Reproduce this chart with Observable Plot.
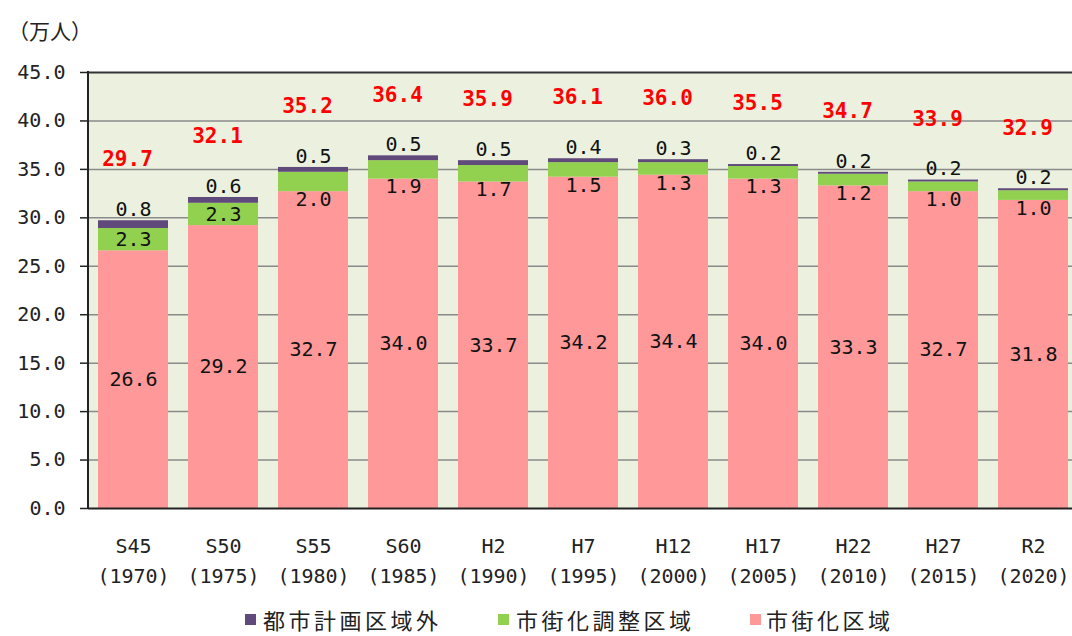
<!DOCTYPE html>
<html>
<head>
<meta charset="utf-8">
<script src="https://cdn.jsdelivr.net/npm/d3@7"></script>
<script src="https://cdn.jsdelivr.net/npm/@observablehq/plot@0.6"></script>
<style>
  html, body { margin: 0; padding: 0; background: #fff; overflow: hidden; }
  #wrap { position: relative; width: 1072px; height: 636px; }
  #unit { height: 50px; position: relative; }
  #unit span { position: absolute; left: 8px; top: 18px; font: 21px "Noto Sans CJK JP"; color: #222; line-height: 24px; }
  #legend { position: absolute; left: 0; top: 604px; width: 1072px; height: 30px; font-family: "Noto Sans CJK JP"; }
  #legend .sw { position: absolute; width: 11px; height: 11px; top: 10px; }
  #legend .lb { position: absolute; top: 3px; font-size: 22px; line-height: 24px; letter-spacing: 3.5px; color: #222; white-space: nowrap; }
</style>
</head>
<body>
<div id="wrap">
  <div id="unit"><span>（万人）</span></div>
  <div id="chart"></div>
  <div id="legend"></div>
</div>
<script>
// ---- data ----
const periods = ["S45", "S50", "S55", "S60", "H2", "H7", "H12", "H17", "H22", "H27", "R2"];
const years = ["1970", "1975", "1980", "1985", "1990", "1995", "2000", "2005", "2010", "2015", "2020"];
const shigaika = [26.6, 29.2, 32.7, 34.0, 33.7, 34.2, 34.4, 34.0, 33.3, 32.7, 31.8]; // 市街化区域
const chosei   = [2.3, 2.3, 2.0, 1.9, 1.7, 1.5, 1.3, 1.3, 1.2, 1.0, 1.0];           // 市街化調整区域
const gai      = [0.8, 0.6, 0.5, 0.5, 0.5, 0.4, 0.3, 0.2, 0.2, 0.2, 0.2];           // 都市計画区域外
const totals   = [29.7, 32.1, 35.2, 36.4, 35.9, 36.1, 36.0, 35.5, 34.7, 33.9, 32.9];
const categories = ["市街化区域", "市街化調整区域", "都市計画区域外"];
const colors = ["#FF9999", "#92D050", "#604A7B"];
const yTicks = [0, 5, 10, 15, 20, 25, 30, 35, 40, 45];

// ---- build table ----
const rows = [];
periods.forEach((p, i) => {
  rows.push({period: p, cat: categories[0], value: shigaika[i]});
  rows.push({period: p, cat: categories[1], value: chosei[i]});
  rows.push({period: p, cat: categories[2], value: gai[i]});
});
const perBar = periods.map((p, i) => ({
  period: p, pink: shigaika[i], green: chosei[i], purple: gai[i],
  top: shigaika[i] + chosei[i] + gai[i], total: totals[i]
}));

const numFont = "DejaVu Sans Mono";
const width = 1072, height = 552;
const mL = 88, mR = -6, mT = 22, mB = 94;

const chart = Plot.plot({
  width, height,
  marginLeft: mL, marginRight: mR, marginTop: mT, marginBottom: mB,
  style: {background: "transparent", overflow: "visible"},
  x: {domain: periods, paddingInner: 0.22, paddingOuter: 0.11, axis: null},
  y: {domain: [0, 45], axis: null},
  color: {domain: categories, range: colors},
  marks: [
    Plot.frame({fill: "#EBF1DE", stroke: null}),
    Plot.ruleY(yTicks.filter(d => d > 0 && d < 45), {stroke: "#8a8a8a", strokeWidth: 1.5}),
    Plot.barY(rows, Plot.stackY({x: "period", y: "value", fill: "cat", order: categories})),
    Plot.ruleY([45], {stroke: "#333", strokeWidth: 2}),
    Plot.ruleY([0], {stroke: "#222", strokeWidth: 2}),
    Plot.axisY({ticks: yTicks, tickFormat: d => d.toFixed(1), tickSize: 8, tickPadding: 15, label: null,
      fontSize: 20, fontFamily: numFont, stroke: "#222", fill: "#222", strokeWidth: 1.5}),
    Plot.axisX({tickSize: 0, tickPadding: 23, fontSize: 20, fontFamily: numFont, lineHeight: 1.5, fill: "#222", label: null,
      tickFormat: d => `${d}\n(${years[periods.indexOf(d)]})`}),
    // pink segment labels
    Plot.text(perBar, {x: "period", y: d => d.pink / 2, text: d => d.pink.toFixed(1),
      fontSize: 20, fontFamily: numFont, fill: "#111"}),
    // green labels: centered when the segment is tall enough, otherwise just below it
    Plot.text(perBar.filter(d => d.green >= 2.2), {x: "period", y: d => d.pink + d.green / 2, text: d => d.green.toFixed(1),
      fontSize: 20, fontFamily: numFont, fill: "#111"}),
    Plot.text(perBar.filter(d => d.green < 2.2), {x: "period", y: "pink", dy: 8, text: d => d.green.toFixed(1),
      fontSize: 20, fontFamily: numFont, fill: "#111"}),
    // purple labels above bar
    Plot.text(perBar, {x: "period", y: "top", dy: -11, text: d => d.purple.toFixed(1),
      fontSize: 20, fontFamily: numFont, fill: "#111"}),
    // totals in red
    Plot.text(perBar, {x: "period", y: "top", dy: -61, dx: -6, text: d => d.total.toFixed(1),
      fontSize: 21, fontWeight: "bold", fontFamily: numFont, fill: "#FF0000"})
  ]
});

// left axis line (decoration)
d3.select(chart).append("line")
  .attr("x1", mL).attr("x2", mL).attr("y1", mT - 1).attr("y2", height - mB + 1)
  .attr("stroke", "#222").attr("stroke-width", 2);

document.getElementById("chart").appendChild(chart);

// legend (HTML, below the svg)
const legend = document.getElementById("legend");
const legendItems = [
  {label: categories[2], color: colors[2], sx: 245, tx: 263},
  {label: categories[1], color: colors[1], sx: 498, tx: 516},
  {label: categories[0], color: colors[0], sx: 750, tx: 766}
];
legendItems.forEach(it => {
  const sw = document.createElement("div");
  sw.className = "sw"; sw.style.left = it.sx + "px"; sw.style.background = it.color;
  const lb = document.createElement("div");
  lb.className = "lb"; lb.style.left = it.tx + "px"; lb.textContent = it.label;
  legend.appendChild(sw); legend.appendChild(lb);
});
</script>
</body>
</html>
